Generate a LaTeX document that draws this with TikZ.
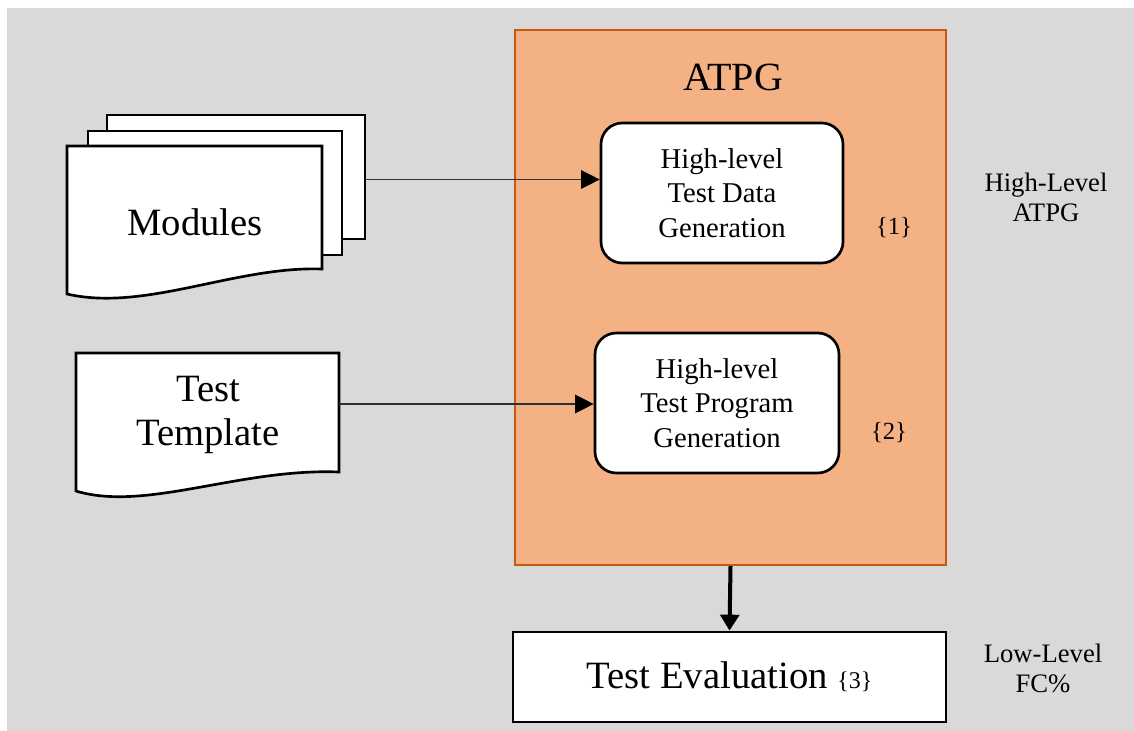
\documentclass[tikz,border=0pt]{standalone}
\usepackage{fontspec}
\setmainfont{Liberation Serif}
\usetikzlibrary{arrows.meta}
\definecolor{panelgray}{HTML}{D9D9D9}
\definecolor{atpgfill}{HTML}{F4B183}
\definecolor{atpgline}{HTML}{C55A11}
\definecolor{feedline}{HTML}{303030}
\tikzset{
  sheet/.style={draw=black, fill=white, line width=2pt, line join=miter},
  doclabel/.style={font=\fontsize{29}{33}\selectfont, align=center, inner sep=0pt},
  atpgbox/.style={draw=atpgline, fill=atpgfill, line width=1.6pt,
    minimum width=323.25pt, minimum height=401.25pt, inner sep=0pt},
  genbox/.style={draw=black, fill=white, line width=2pt, rounded corners=16pt,
    minimum height=105pt, align=center, inner sep=0pt,
    font=\fontsize{21.5}{26}\selectfont},
  evalbox/.style={draw=black, fill=white, line width=2pt,
    minimum width=324.75pt, minimum height=67.5pt, inner sep=0pt,
    font=\fontsize{29}{33}\selectfont},
  sidenote/.style={font=\fontsize{20}{22.5}\selectfont, align=center, inner sep=0pt},
  tagnote/.style={font=\fontsize{18.5}{21}\selectfont, inner sep=0pt},
  feed/.style={draw=feedline, line width=1pt,
    -{Triangle[length=14pt,width=14pt,color=black]}},
  flow/.style={draw=black, line width=3pt,
    -{Triangle[length=12pt,width=14pt]}},
}
\begin{document}
\begin{tikzpicture}[x=0.75pt, y=-0.75pt]
  % canvas
  \fill[white] (0,0) rectangle (1134,731);
  \fill[panelgray] (7,8) rectangle (1134,731);
  \useasboundingbox (0,0) rectangle (1134,731);

  % stack of module sheets
  \draw[sheet] (107,115) rectangle (365,239);
  \draw[sheet] (88,131) rectangle (342,255);
  \draw[sheet] (67,146) -- (322,146) -- (322,269)
    .. controls (235,266) and (145,312) .. (67,294) -- cycle;
  \node[doclabel] (modules) at (195,222) {Modules};
  \coordinate (modout) at (365,179.5);

  % test template document
  \draw[sheet] (76,353) -- (339,353) -- (339,472)
    .. controls (240,468) and (145,512) .. (76,491) -- cycle;
  \node[doclabel] (template) at (208,415) {Test\\Template};
  \coordinate (tplout) at (339,404);

  % ATPG block
  \node[atpgbox] (atpg) at (730.5,297.5) {};
  \node[font=\fontsize{30}{34}\selectfont, inner sep=0pt] (atpgtitle) at (733,77) {ATPG};

  \node[genbox, minimum width=181.5pt] (gen1) at (722,193)
    {High-level\\Test Data\\Generation};
  \node[genbox, minimum width=183pt] (gen2) at (717,403)
    {High-level\\Test Program\\Generation};

  \node[tagnote] (tag1) at (894,228) {\{1\}};
  \node[tagnote] (tag2) at (889,433) {\{2\}};

  % evaluation block
  \node[evalbox] (eval) at (729.5,677)
    {Test Evaluation {\fontsize{18}{20}\selectfont\{3\}}};

  % side annotations
  \node[sidenote] (hlnote) at (1046,197) {High-Level\\ATPG};
  \node[sidenote] (llnote) at (1043,668) {Low-Level\\FC\%};

  % connectors
  \draw[feed] (modout) -- (modout -| gen1.west);
  \draw[feed] (tplout) -- (tplout -| gen2.west);
  \draw[flow] (atpg.south) -- (eval.north);
\end{tikzpicture}
\end{document}
